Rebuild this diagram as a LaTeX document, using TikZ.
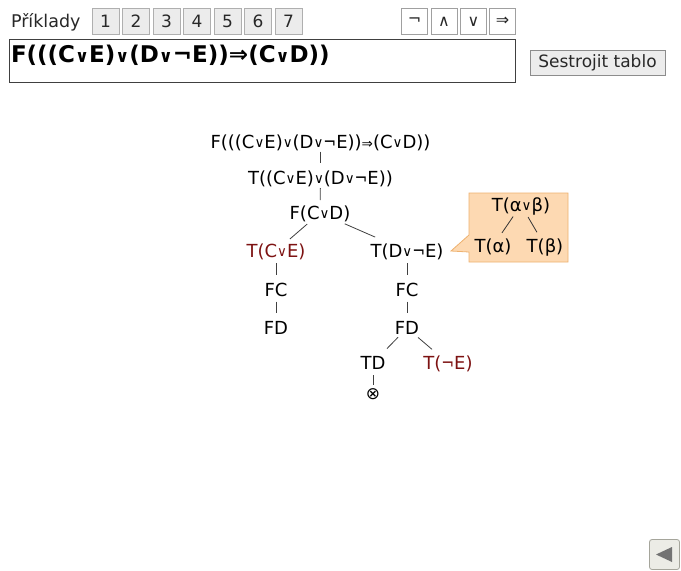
\documentclass[tikz,border=0pt]{standalone}
\usepackage{fontspec}
\setmainfont{DejaVu Sans}
\definecolor{btnfill}{RGB}{236,236,236}
\definecolor{btnborder}{RGB}{175,175,175}
\definecolor{opborder}{RGB}{160,160,160}
\definecolor{darktext}{RGB}{40,40,40}
\definecolor{darkred}{RGB}{125,18,18}
\definecolor{calloutfill}{RGB}{253,217,178}
\definecolor{calloutdraw}{RGB}{238,178,112}
\definecolor{backfill}{RGB}{236,236,230}
\definecolor{backdraw}{RGB}{165,165,155}
\newcommand{\orsym}{\raisebox{0.6pt}{\scalebox{0.75}{∨}}}
\newcommand{\orbold}{\scalebox{0.75}{\textbf{∨}}}
\newcommand{\notsym}{\scalebox{0.85}[1]{¬}}
\newcommand{\impsym}{\scalebox{0.75}{⇒}}
\begin{document}
\begin{tikzpicture}[x=1pt,y=-1pt,
  every node/.style={inner sep=0pt, outer sep=0pt},
  numbtn/.style={draw=btnborder, fill=btnfill, minimum width=27pt, minimum height=26pt, text=darktext, font=\fontsize{17}{17}\selectfont},
  opbtn/.style={draw=opborder, fill=white, minimum width=26pt, minimum height=26pt, text=darktext, font=\fontsize{16}{16}\selectfont},
  tree/.style={font=\fontsize{18}{18}\selectfont, text height=13.5pt, text depth=0.5pt},
  hl/.style={text=darkred},
  edge/.style={draw=black!75, line width=0.8pt},
  cedge/.style={draw=black!80, line width=0.8pt}
]
\useasboundingbox (0,0) rectangle (681,571);
\fill[white] (0,0) rectangle (681,571);

% header
\node[anchor=base west, text=darktext, font=\fontsize{17.5}{17.5}\selectfont] (prik) at (11,27.5) {Příklady};
\node[numbtn] (b1) at (105.5,21.5) {1};
\node[numbtn] (b2) at (136,21.5) {2};
\node[numbtn] (b3) at (166.5,21.5) {3};
\node[numbtn] (b4) at (197,21.5) {4};
\node[numbtn] (b5) at (227.5,21.5) {5};
\node[numbtn] (b6) at (258,21.5) {6};
\node[numbtn] (b7) at (288.5,21.5) {7};

\node[opbtn] (onot) at (414.5,21.5) {¬};
\node[opbtn] (oand) at (444,21.5) {∧};
\node[opbtn] (oor) at (473.5,21.5) {∨};
\node[opbtn] (oimp) at (502.5,21.5) {⇒};

\node[draw=black!75, line width=1pt, minimum width=506pt, minimum height=43pt, anchor=north west] (input) at (9,39) {};
\node[anchor=base west, font=\fontsize{23}{23}\selectfont\bfseries] (inputtext) at (11,62) {F(((C\orbold E)\orbold(D\orbold¬E))⇒(C\orbold D))};

\node[draw=black!45, fill=btnfill, minimum width=135pt, minimum height=25pt, text=darktext, font=\fontsize{17}{17}\selectfont] (build) at (597.5,62.5) {Sestrojit tablo};

% tree
\node[tree] (root) at (320.5,142) {F(((C\orsym E)\orsym(D\orsym\notsym E))\impsym(C\orsym D))};
\node[tree] (t1) at (320.5,178) {T((C\orsym E)\orsym(D\orsym\notsym E))};
\node[tree] (fcd) at (320,213) {F(C\orsym D)};
\node[tree,hl] (tce) at (276,251) {T(C\orsym E)};
\node[tree] (tde) at (407,251) {T(D\orsym\notsym E)};
\node[tree] (fc1) at (276,290) {FC};
\node[tree] (fd1) at (276,328) {FD};
\node[tree] (fc2) at (407,290) {FC};
\node[tree] (fd2) at (407,328) {FD};
\node[tree] (td) at (373,363) {TD};
\node[tree,hl] (tne) at (448,363) {T(\notsym E)};
\node[font=\fontsize{17}{17}\selectfont] (closed) at (373,394) {⊗};

\draw[edge, shorten <=9.7pt, shorten >=14.7pt] (root.center) -- (t1.center);
\draw[edge, shorten <=10pt, shorten >=13pt] (t1.center) -- (fcd.center);
\draw[edge, shorten <=17pt, shorten >=18.4pt] (fcd.center) -- (tce.center);
\draw[edge, shorten <=27pt, shorten >=34.8pt] (fcd.center) -- (tde.center);
\draw[edge, shorten <=12pt, shorten >=15pt] (tce.center) -- (fc1.center);
\draw[edge, shorten <=11.7pt, shorten >=14.7pt] (fc1.center) -- (fd1.center);
\draw[edge, shorten <=12pt, shorten >=15pt] (tde.center) -- (fc2.center);
\draw[edge, shorten <=11.7pt, shorten >=14.7pt] (fc2.center) -- (fd2.center);
\draw[edge, shorten <=12.9pt, shorten >=20pt] (fd2.center) -- (td.center);
\draw[edge, shorten <=14.5pt, shorten >=21pt] (fd2.center) -- (tne.center);
\draw[edge, shorten <=12pt, shorten >=9pt] (td.center) -- (closed.center);

% callout
\draw[draw=calloutdraw, fill=calloutfill, line width=0.8pt]
  (469,193) -- (568,193) -- (568,262) -- (469,262) -- (469,252) -- (451,251) -- (469,235) -- cycle;
\node[tree] (rab) at (521,205) {T(α\orsym β)};
\node[tree] (ra) at (493,246) {T(α)};
\node[tree] (rb) at (545,246) {T(β)};
\draw[cedge, shorten <=14pt, shorten >=16pt] (rab.center) -- (ra.center);
\draw[cedge, shorten <=14pt, shorten >=16pt] (rab.center) -- (rb.center);

% back button
\node[draw=backdraw, fill=backfill, rounded corners=2.5pt, minimum width=30pt, minimum height=30pt, line width=0.8pt] (back) at (664.5,554.5) {};
\fill[black!55] (656,554.5) -- (672,547) -- (672,562) -- cycle;
\end{tikzpicture}
\end{document}
